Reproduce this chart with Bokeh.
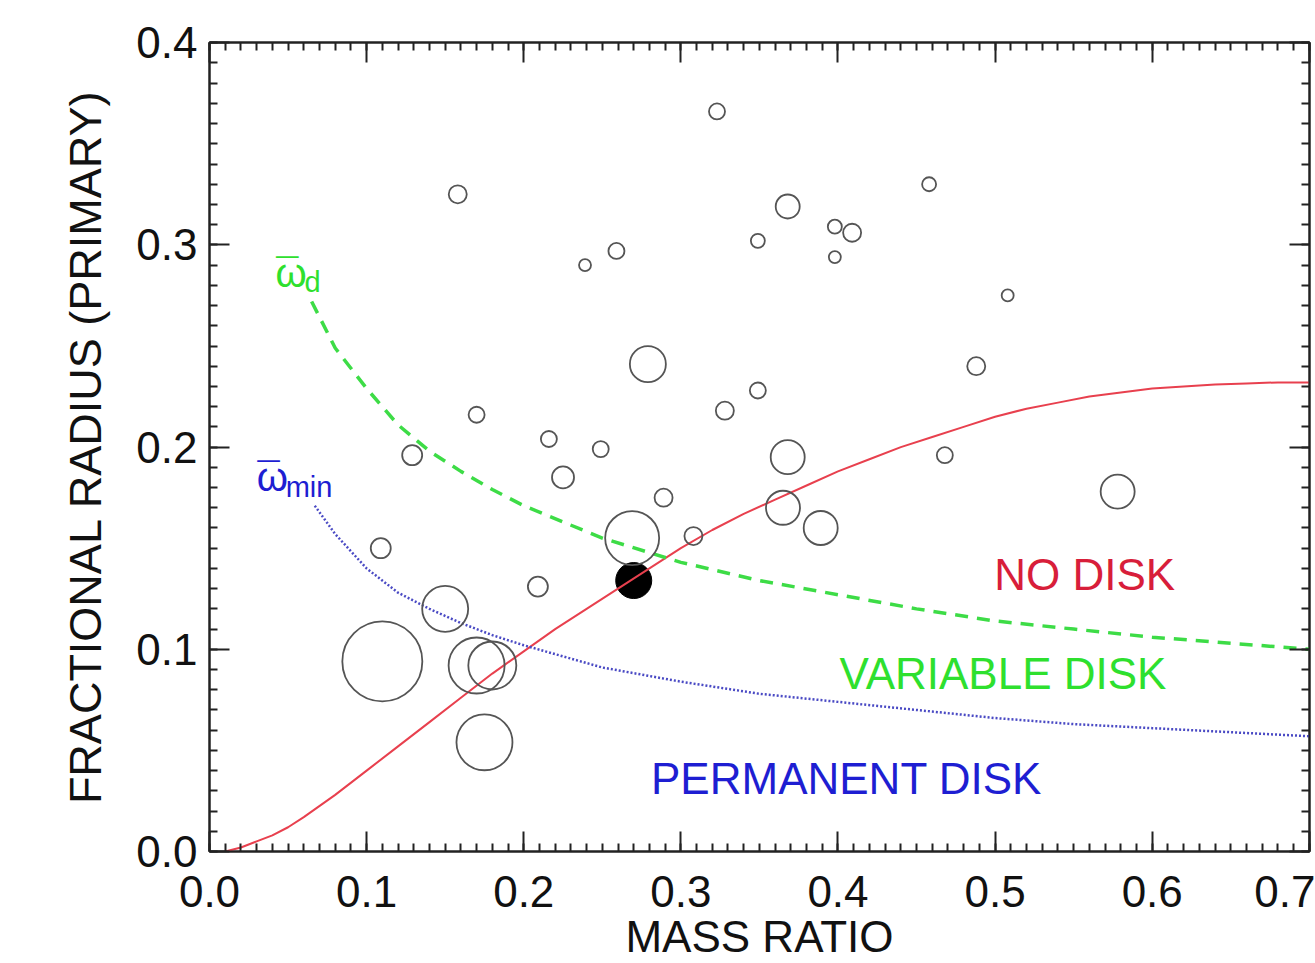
from bokeh.plotting import figure
from bokeh.models import (LinearAxis, SingleIntervalTicker, Range1d, Label,
                          PrintfTickFormatter)
from bokeh.embed import file_html
from bokeh.resources import INLINE

# ---------------- data ----------------
# systems: mass ratio, fractional radius of primary, symbol radius (relative size)
mass_ratio = [0.323, 0.158, 0.458, 0.368, 0.259, 0.239, 0.349, 0.398, 0.409, 0.398,
              0.508, 0.279, 0.488, 0.349, 0.328, 0.170, 0.216, 0.249, 0.129, 0.468,
              0.368, 0.225, 0.289, 0.578, 0.365, 0.389, 0.269, 0.308, 0.109, 0.209,
              0.150, 0.110, 0.170, 0.180, 0.175]
frac_radius = [0.366, 0.325, 0.330, 0.319, 0.297, 0.290, 0.302, 0.309, 0.306, 0.294,
               0.275, 0.241, 0.240, 0.228, 0.218, 0.216, 0.204, 0.199, 0.196, 0.196,
               0.195, 0.185, 0.175, 0.178, 0.170, 0.160, 0.155, 0.156, 0.150, 0.131,
               0.120, 0.094, 0.092, 0.092, 0.054]
symbol_radius = [8, 9, 7, 12, 8, 6, 7, 7, 9, 6,
                 6, 18, 9, 8, 9, 8, 8, 8, 10, 8,
                 17, 11, 9, 17, 17, 17, 27, 9, 10, 10,
                 23, 40, 28, 24, 28]

# highlighted system (filled)
hl_q = [0.270]
hl_r = [0.134]
hl_radius = [18]

# red solid curve
red_q = [0.010, 0.020, 0.030, 0.040, 0.050, 0.060, 0.080, 0.100, 0.120, 0.140,
         0.160, 0.180, 0.200, 0.220, 0.240, 0.260, 0.280, 0.300, 0.320, 0.340,
         0.360, 0.380, 0.400, 0.420, 0.440, 0.460, 0.480, 0.500, 0.520, 0.540,
         0.560, 0.580, 0.600, 0.620, 0.640, 0.660, 0.680, 0.700]
red_r = [0.000, 0.002, 0.005, 0.008, 0.012, 0.017, 0.028, 0.040, 0.052, 0.064,
         0.076, 0.088, 0.099, 0.110, 0.120, 0.130, 0.140, 0.150, 0.159, 0.167,
         0.174, 0.181, 0.188, 0.194, 0.200, 0.205, 0.210, 0.215, 0.219, 0.222,
         0.225, 0.227, 0.229, 0.230, 0.231, 0.2315, 0.232, 0.232]

# omega_d (green dashed)
wd_q = [0.065, 0.08, 0.10, 0.12, 0.14, 0.16, 0.18, 0.20, 0.25, 0.30,
        0.35, 0.40, 0.45, 0.50, 0.55, 0.60, 0.65, 0.70]
wd_r = [0.272, 0.249, 0.229, 0.211, 0.198, 0.188, 0.179, 0.171, 0.155, 0.143,
        0.134, 0.127, 0.120, 0.114, 0.110, 0.106, 0.103, 0.100]

# omega_min (blue dotted)
wmin_q = [0.067, 0.08, 0.10, 0.12, 0.14, 0.16, 0.18, 0.20, 0.25, 0.30,
          0.35, 0.40, 0.45, 0.50, 0.55, 0.60, 0.65, 0.70]
wmin_r = [0.171, 0.157, 0.140, 0.128, 0.120, 0.113, 0.107, 0.102, 0.091, 0.084,
          0.078, 0.074, 0.070, 0.066, 0.063, 0.061, 0.059, 0.057]

# ---------------- styling ----------------
FONT = "Liberation Sans"
RED_LINE = "#e8404e"
RED_TXT = "#d81e3a"
GREEN_LINE = "#3ddc46"
GREEN_TXT = "#2ee02e"
BLUE_LINE = "#4a4ac4"
BLUE_TXT = "#1e1ed2"

p = figure(width=1315, height=963,
           x_range=Range1d(0, 0.7001), y_range=Range1d(0, 0.4001),
           output_backend="svg", toolbar_location=None,
           min_border_left=209, min_border_top=42,
           min_border_right=6, min_border_bottom=112,
           x_axis_label="MASS RATIO",
           y_axis_label="FRACTIONAL RADIUS (PRIMARY)")
p.grid.visible = False
p.background_fill_color = "white"
p.border_fill_color = "white"
p.outline_line_color = "#222222"
p.outline_line_width = 2


def style_axis(ax, show_labels):
    ax.ticker = SingleIntervalTicker(interval=0.1, num_minor_ticks=10)
    ax.formatter = PrintfTickFormatter(format="%.1f")
    ax.axis_line_color = "#222222"
    ax.axis_line_width = 2
    ax.major_tick_in = 20
    ax.major_tick_out = 0
    ax.minor_tick_in = 8
    ax.minor_tick_out = 0
    ax.major_tick_line_color = "#222222"
    ax.major_tick_line_width = 2
    ax.minor_tick_line_color = "#222222"
    ax.minor_tick_line_width = 2
    if show_labels:
        ax.major_label_text_font = FONT
        ax.major_label_text_font_size = "44px"
        ax.major_label_text_color = "#111111"
        ax.axis_label_text_font = FONT
        ax.axis_label_text_font_size = "44px"
        ax.axis_label_text_font_style = "normal"
        ax.axis_label_text_color = "#111111"
    else:
        ax.major_label_text_font_size = "0px"
        ax.major_label_standoff = 0


xa = p.xaxis[0]
ya = p.yaxis[0]
style_axis(xa, True)
style_axis(ya, True)
ya.axis_label_text_font_size = "45px"
xa.major_label_standoff = 24
xa.axis_label_standoff = 2
ya.major_label_standoff = 12
ya.axis_label_standoff = 22

top_ax = LinearAxis()
right_ax = LinearAxis()
style_axis(top_ax, False)
style_axis(right_ax, False)
p.add_layout(top_ax, "above")
p.add_layout(right_ax, "right")

# curves and symbols
p.scatter(hl_q, hl_r, marker="circle", size=[2 * r for r in hl_radius],
          fill_color="black", line_color="black")
p.line(red_q, red_r, line_color=RED_LINE, line_width=2)
p.line(wd_q, wd_r, line_color=GREEN_LINE, line_width=3.5, line_dash="13 9")
p.line(wmin_q, wmin_r, line_color=BLUE_LINE, line_width=2.5, line_dash="2 2")
p.scatter(mass_ratio, frac_radius, marker="circle",
          size=[2 * r for r in symbol_radius],
          fill_color=None, line_color="#555555", line_width=1.8)


def add_label(x, y, text, color, size, align="left"):
    p.add_layout(Label(x=x, y=y, text=text, text_color=color,
                       text_font=FONT, text_font_size=size,
                       text_align=align, text_baseline="alphabetic"))


# region labels
add_label(0.4994, 0.137, "NO DISK", RED_TXT, "44px")
add_label(0.401, 0.088, "VARIABLE DISK", GREEN_TXT, "44px")
add_label(0.281, 0.036, "PERMANENT DISK", BLUE_TXT, "44px")

# curve labels: omega with overbar and subscripts
add_label(0.042, 0.286, "\u03c9", GREEN_TXT, "40px")
add_label(0.0425, 0.286, "\u00af", GREEN_TXT, "40px")
add_label(0.0605, 0.2815, "d", GREEN_TXT, "29px")
add_label(0.030, 0.185, "\u03c9", BLUE_TXT, "40px")
add_label(0.0305, 0.185, "\u00af", BLUE_TXT, "40px")
add_label(0.0485, 0.1805, "min", BLUE_TXT, "29px")

open("out.html", "w").write(file_html(p, INLINE))
